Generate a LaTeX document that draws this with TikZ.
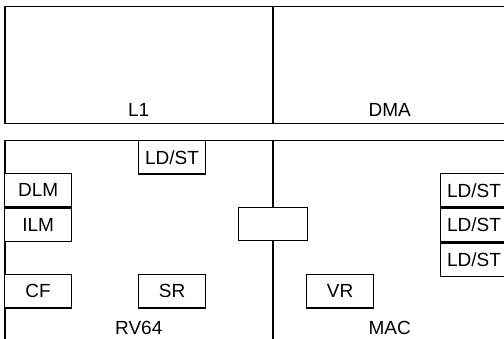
\documentclass[tikz,border=0pt]{standalone}
\usepackage{fontspec}
\setmainfont{Liberation Sans}
\usetikzlibrary{positioning}
\tikzset{
  % containers
  region/.style      = {draw, line width=1.5pt, anchor=north west, inner sep=0pt,
                        minimum width=268pt},
  regionlabel/.style = {font=\fontsize{19}{22}\selectfont, anchor=base, inner sep=0pt},
  % units
  unit/.style        = {draw, fill=white, line width=1.2pt, anchor=north west, inner sep=0pt,
                        font=\fontsize{19}{22}\selectfont, minimum width=67pt, minimum height=33.5pt},
}

\begin{document}
\begin{tikzpicture}[x=1pt, y=-1pt, node distance=0pt]

\clip (0,0) rectangle (504,339);

% ---------- Memory side ----------
\node[region, minimum height=117pt] (l1)  at (4,6)   {};
\node[region, minimum height=117pt, minimum width=234pt] (dma) at (272,6) {};
\node[regionlabel] (l1lab)  at ([yshift=8pt]l1.south)  {L1};
\node[regionlabel] (dmalab) at ([yshift=8pt]dma.south) {DMA};

% ---------- Cores ----------
\node[region, minimum height=201pt] (rv64) at (4,140)   {};
\node[region, minimum height=201pt, minimum width=234pt] (mac) at (272,140) {};
\node[regionlabel] (rvlab)  at ([yshift=8pt]rv64.south) {RV64};
\node[regionlabel] (maclab) at ([yshift=8pt]mac.south)  {MAC};

% ---------- RV64 units ----------
\node[unit] (rvldst) at (138,140) {LD/ST};
\node[unit] (dlm)    at (4,173)   {DLM};
\node[unit, below=of dlm] (ilm) {ILM};
\node[unit] (cf)     at (4,274)   {CF};
\node[unit] (sr)     at (138,274) {SR};

% ---------- bridge between cores ----------
\node[unit, minimum width=69pt, minimum height=33pt] (bridge) at (238,207) {};

% ---------- MAC units ----------
\node[unit] (vr)     at (306,274) {VR};
\node[unit] (mldsta) at (440,173) {LD/ST};
\node[unit, below=of mldsta] (mldstb) {LD/ST};
\node[unit, below=of mldstb] (mldstc) {LD/ST};

\end{tikzpicture}
\end{document}
